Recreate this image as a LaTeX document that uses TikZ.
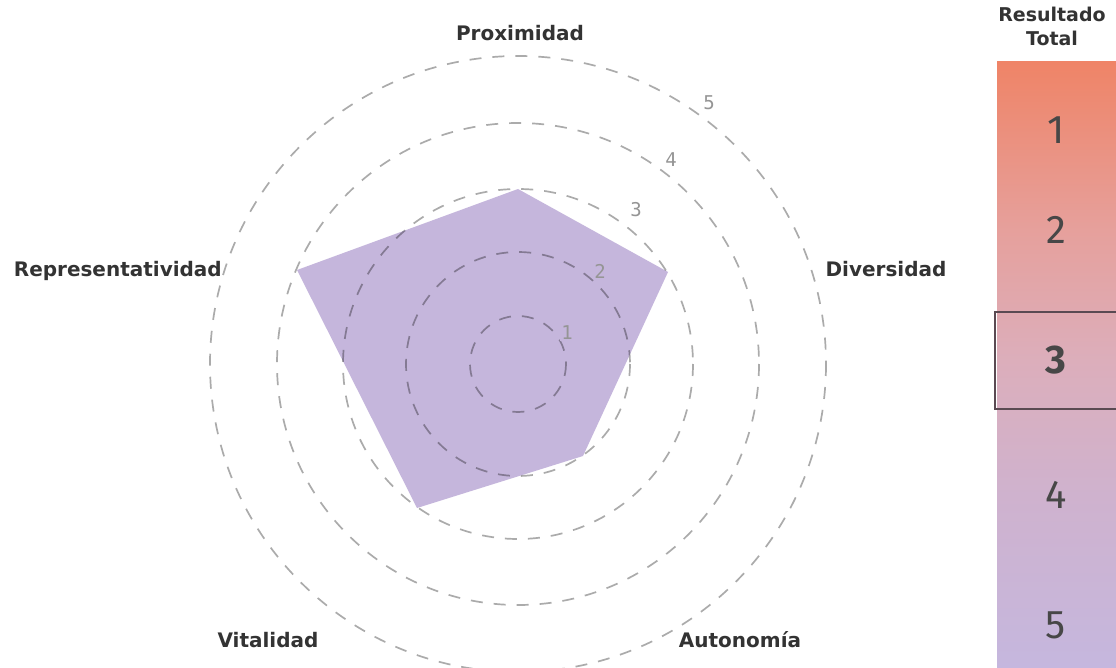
\documentclass[tikz,border=0pt]{standalone}
\usepackage{fontspec}
\setmainfont{Fira Sans}
\newfontfamily\labf{DejaVu Sans}
\newfontfamily\monof{DejaVu Sans Mono}
\definecolor{polyc}{HTML}{C5B6DC}
\definecolor{ringlab}{HTML}{959595}
\definecolor{labc}{HTML}{333333}
\definecolor{shA}{HTML}{EF8467}
\definecolor{shB}{HTML}{E6A09C}
\definecolor{shC}{HTML}{DCAEBB}
\definecolor{shD}{HTML}{CFB2CE}
\definecolor{shE}{HTML}{C5B7DE}
\definecolor{boxc}{HTML}{5A4A52}
\pgfdeclareverticalshading{barshade}{100bp}{color(0bp)=(shE); color(25bp)=(shE); color(39.3bp)=(shD); color(50.4bp)=(shC); color(61.1bp)=(shB); color(75bp)=(shA); color(100bp)=(shA)}
\begin{document}
\begin{tikzpicture}[x=1pt,y=-1pt,
  ring/.style={draw=black, draw opacity=0.33, line width=1.7pt, dash pattern=on 12pt off 11pt},
  axislab/.style={text=labc, font=\labf\fontsize{20}{22}\selectfont\bfseries, inner sep=0pt},
  ringnum/.style={text=ringlab, font=\monof\fontsize{19}{21}\selectfont, inner sep=1pt},
  barnum/.style={text=labc!90, font=\fontsize{40}{44}\selectfont, inner sep=0pt},
  headlab/.style={text=labc, font=\labf\fontsize{19}{24}\selectfont\bfseries, align=center, inner sep=0pt}
]
\useasboundingbox (0,0) rectangle (1116,668);
\fill[white] (0,0) rectangle (1116,668);

% polygon
\coordinate (pP) at (518,189);
\coordinate (pD) at (668,272);
\coordinate (pA) at (583,456);
\coordinate (pV) at (417,508);
\coordinate (pR) at (297,270);
\fill[polyc] (pP) -- (pD) -- (pA) -- (pV) -- (pR) -- cycle;

% rings
\coordinate (c) at (518,364);
\foreach \r in {48,112,175,241,308} \draw[ring] (c) circle[radius=\r];

% ring labels
\node[ringnum, fill=white] (n5) at (709,103) {5};
\node[ringnum, fill=white] (n4) at (671,160) {4};
\node[ringnum, fill=white] (n3) at (636,210) {3};
\node[ringnum, fill=polyc] (n2) at (600,271) {2};
\node[ringnum, fill=polyc] (n1) at (567,333) {1};

% axis labels
\node[axislab] (lP) at (520,33) {Proximidad};
\node[axislab] (lD) at (886,269) {Diversidad};
\node[axislab, anchor=east] (lR) at (222,271) {Representatividad};
\node[axislab] (lV) at (268,640) {Vitalidad};
\node[axislab] (lA) at (740,640) {Autonom\'ia};

% result bar
\shade[shading=barshade] (997,62) rectangle (1116,668);
\node[headlab] (head) at (1052,26) {Resultado\\Total};
\draw[boxc, line width=1.5pt] (995,312) rectangle (1122,409);
\node[barnum] (b1) at (1056,130) {1};
\node[barnum] (b2) at (1056,230) {2};
\node[barnum, font=\fontsize{40}{44}\selectfont\bfseries] (b3) at (1056,360) {3};
\node[barnum] (b4) at (1056,495) {4};
\node[barnum] (b5) at (1056,625) {5};
\end{tikzpicture}
\end{document}
